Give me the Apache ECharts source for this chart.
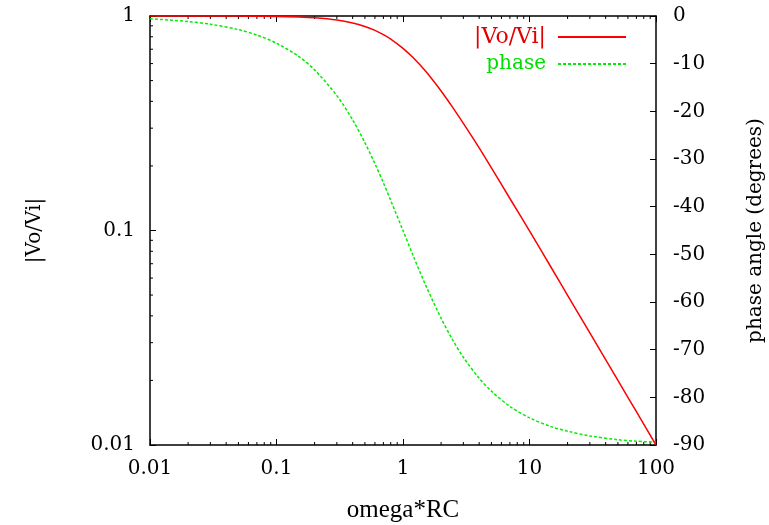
<!DOCTYPE html>
<html>
<head>
<meta charset="utf-8">
<script src="https://cdn.jsdelivr.net/npm/echarts@6/dist/echarts.min.js"></script>
<style>html,body{margin:0;padding:0;background:#fff}#c{width:769px;height:525px}</style>
</head>
<body>
<div id="c"></div>
<script>
// omega*RC sample points
var omegaRC = [0.01, 0.02, 0.03, 0.05, 0.07, 0.1, 0.15, 0.2, 0.3, 0.4, 0.5, 0.6, 0.7, 0.8, 1, 1.2, 1.5, 2, 2.5, 3, 4, 5, 7, 10, 15, 20, 30, 50, 70, 100];
// |Vo/Vi| values
var gain = [1.0, 0.9998, 0.9996, 0.9988, 0.9976, 0.995, 0.989, 0.981, 0.958, 0.928, 0.894, 0.857, 0.819, 0.781, 0.707, 0.640, 0.555, 0.447, 0.371, 0.316, 0.243, 0.196, 0.141, 0.0995, 0.0665, 0.0499, 0.0333, 0.0200, 0.0143, 0.0100];
// phase angle values (degrees)
var phase = [-0.57, -1.15, -1.72, -2.86, -4.0, -5.7, -8.5, -11.3, -16.7, -21.8, -26.6, -31.0, -35.0, -38.7, -45.0, -50.2, -56.3, -63.4, -68.2, -71.6, -76.0, -78.7, -81.9, -84.3, -86.2, -87.1, -88.1, -88.9, -89.2, -89.4];
// minor tick values
var xMinor = [0.02,0.03,0.04,0.05,0.06,0.07,0.08,0.09, 0.2,0.3,0.4,0.5,0.6,0.7,0.8,0.9, 2,3,4,5,6,7,8,9, 20,30,40,50,60,70,80,90];
var yMinor = [0.02,0.03,0.04,0.05,0.06,0.07,0.08,0.09, 0.2,0.3,0.4,0.5,0.6,0.7,0.8,0.9];
var xTicks = ['0.01','0.1','1','10','100'];
var yTicks = ['0.01','0.1','1'];

var FONT = 'DejaVu Serif';
var FONT2 = 'Liberation Serif';
var gainData = omegaRC.map(function(x,i){return [x, gain[i]];});
var phaseData = omegaRC.map(function(x,i){return [x, phase[i]];});
var minorData = xMinor.map(function(x){return [x, 0.01, 0];}).concat(yMinor.map(function(y){return [0.01, y, 1];}));

var chart = echarts.init(document.getElementById('c'), null, {renderer:'canvas'});
var axisLine = {show:true, onZero:false, lineStyle:{color:'#000', width:1.5}};
var tick = {show:true, inside:true, length:6, lineStyle:{color:'#000', width:1}};
chart.setOption({
  animation:false,
  backgroundColor:'#fff',
  grid:{left:150, right:113, top:16, bottom:80, containLabel:false, outerBoundsMode:'none'},
  legend:{
    orient:'vertical', right:137, top:21, align:'right', itemWidth:68, itemHeight:14, itemGap:6,
    itemStyle:{opacity:0},
    textStyle:{fontFamily:FONT, fontSize:20, padding:[0,7,0,0]},
    data:[
      {name:'|Vo/Vi|', textStyle:{color:'#e00000', fontSize:22, padding:[0,7,0,0]}},
      {name:'phase', textStyle:{color:'#00dd00', padding:[0,7,0,0]}}
    ]
  },
  xAxis:[{
    type:'log', logBase:10, min:0.01, max:100, position:'bottom',
    name:'omega*RC', nameLocation:'middle', nameGap:53, nameMoveOverlap:false,
    nameTextStyle:{fontFamily:FONT2, fontSize:25, color:'#000'},
    axisLine:axisLine, axisTick:tick,
    axisLabel:{fontFamily:FONT, fontSize:20, color:'#000', margin:14,
      formatter:function(v){ var i=Math.round(Math.log10(v))+2; return xTicks[i]; }},
    splitLine:{show:false}
  },{
    type:'log', logBase:10, min:0.01, max:100, position:'top',
    axisLine:axisLine, axisTick:tick,
    axisLabel:{show:false}, splitLine:{show:false}
  }],
  yAxis:[{
    type:'log', logBase:10, min:0.01, max:1, position:'left',
    name:'|Vo/Vi|', nameLocation:'middle', nameGap:105, nameRotate:90, nameMoveOverlap:false,
    nameTextStyle:{fontFamily:FONT, fontSize:20, color:'#000'},
    axisLine:axisLine, axisTick:tick,
    axisLabel:{fontFamily:FONT, fontSize:20, color:'#000', margin:15,
      formatter:function(v){ var i=Math.round(Math.log10(v))+2; return yTicks[i]; }},
    splitLine:{show:false}
  },{
    type:'value', min:-90, max:0, interval:10, position:'right',
    name:'phase angle (degrees)', nameLocation:'middle', nameGap:90, nameRotate:90, nameMoveOverlap:false,
    nameTextStyle:{fontFamily:FONT, fontSize:20, color:'#000'},
    axisLine:axisLine, axisTick:tick,
    axisLabel:{fontFamily:FONT, fontSize:20, color:'#000', margin:17,
      formatter:function(v){ return String(v); }},
    splitLine:{show:false}
  }],
  series:[
    {name:'|Vo/Vi|', type:'line', xAxisIndex:0, yAxisIndex:0, data:gainData, smooth:0.3,
     showSymbol:false, symbol:'none', color:'#ff0000', lineStyle:{color:'#ff0000', width:1.5}, z:3},
    {name:'phase', type:'line', xAxisIndex:0, yAxisIndex:1, data:phaseData, smooth:0.3,
     showSymbol:false, symbol:'none', color:'#00ee00', lineStyle:{color:'#00ee00', width:1.5, type:[3,2]}, z:2},
    {name:'minorTicks', type:'custom', xAxisIndex:0, yAxisIndex:0, data:minorData, clip:false, silent:true,
     renderItem:function(params, api){
       var kind = api.value(2);
       var L = 3;
       if (kind === 0) {
         var pb = api.coord([api.value(0), 0.01]);
         var pt = api.coord([api.value(0), 1]);
         return {type:'group', children:[
           {type:'line', shape:{x1:pb[0], y1:pb[1], x2:pb[0], y2:pb[1]-L}, style:{stroke:'#000', lineWidth:1}},
           {type:'line', shape:{x1:pt[0], y1:pt[1], x2:pt[0], y2:pt[1]+L}, style:{stroke:'#000', lineWidth:1}}
         ]};
       } else {
         var pl = api.coord([0.01, api.value(1)]);
         return {type:'line', shape:{x1:pl[0], y1:pl[1], x2:pl[0]+L, y2:pl[1]}, style:{stroke:'#000', lineWidth:1}};
       }
     }}
  ]
});
</script>
</body>
</html>
